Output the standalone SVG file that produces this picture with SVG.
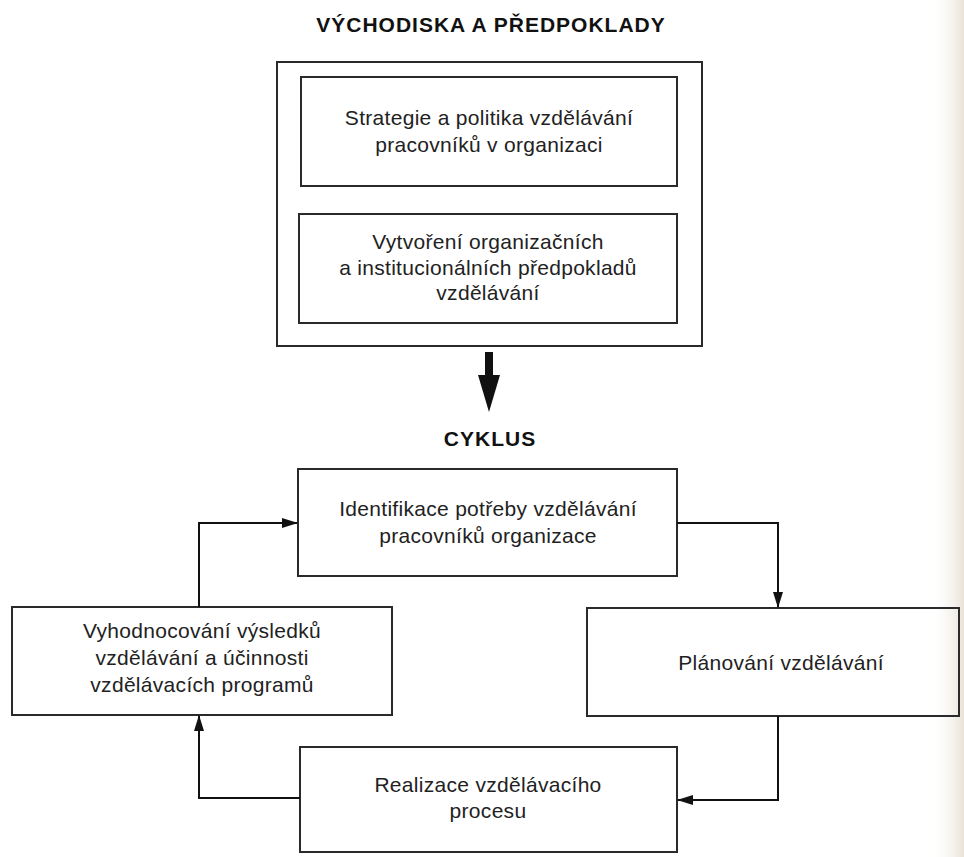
<svg xmlns="http://www.w3.org/2000/svg" width="964" height="857" viewBox="0 0 964 857">
  <defs>
    <style>
      .box { fill: none; stroke: #2a2a2a; stroke-width: 2; }
      .txt { font-family: "Liberation Sans", Arial, Helvetica, sans-serif; font-size: 21px; fill: #222; text-anchor: middle; letter-spacing: 0.3px; }
      .head { font-family: "Liberation Sans", Arial, Helvetica, sans-serif; font-size: 21px; font-weight: bold; fill: #111; text-anchor: middle; letter-spacing: 1px; }
      .conn { fill: none; stroke: #111; stroke-width: 2; }
    </style>
    <marker id="arr" markerUnits="userSpaceOnUse" markerWidth="16" markerHeight="10" refX="15" refY="5" orient="auto">
      <path d="M0,0 L16,5 L0,10 Z" fill="#111"/>
    </marker>
    <linearGradient id="edge" x1="0" y1="0" x2="1" y2="0">
      <stop offset="0" stop-color="#ffffff" stop-opacity="0"/>
      <stop offset="1" stop-color="#e8e2d6"/>
    </linearGradient>
  </defs>
  <rect x="0" y="0" width="964" height="857" fill="#ffffff"/>
  <rect x="930" y="0" width="34" height="857" fill="url(#edge)"/>

  <g id="title-vychodiska">
    <text class="head" x="491" y="32">VÝCHODISKA A PŘEDPOKLADY</text>
  </g>

  <g id="outer-box">
    <rect class="box" x="277" y="62" width="425" height="284"/>
  </g>

  <g id="node-strategie">
    <rect class="box" x="301" y="77" width="376" height="109"/>
    <text class="txt" x="489" y="125">Strategie a politika vzdělávání</text>
    <text class="txt" x="489" y="152">pracovníků v organizaci</text>
  </g>

  <g id="node-vytvoreni">
    <rect class="box" x="299" y="214" width="378" height="109"/>
    <text class="txt" x="488" y="249">Vytvoření organizačních</text>
    <text class="txt" x="488" y="275">a institucionálních předpokladů</text>
    <text class="txt" x="488" y="300">vzdělávání</text>
  </g>

  <g id="big-arrow">
    <rect x="485" y="352" width="8" height="26" fill="#111"/>
    <path d="M478,375 L500,375 L489,412 Z" fill="#111"/>
  </g>

  <g id="title-cyklus">
    <text class="head" x="490" y="446">CYKLUS</text>
  </g>

  <g id="node-identifikace">
    <rect class="box" x="298" y="469" width="379" height="107"/>
    <text class="txt" x="488" y="516">Identifikace potřeby vzdělávání</text>
    <text class="txt" x="488" y="543">pracovníků organizace</text>
  </g>

  <g id="node-planovani">
    <rect class="box" x="587" y="608" width="372" height="108"/>
    <text class="txt" x="781" y="670">Plánování vzdělávání</text>
  </g>

  <g id="node-realizace">
    <rect class="box" x="300" y="747" width="377" height="105"/>
    <text class="txt" x="488" y="792">Realizace vzdělávacího</text>
    <text class="txt" x="488" y="818">procesu</text>
  </g>

  <g id="node-vyhodnocovani">
    <rect class="box" x="12" y="607" width="380" height="108"/>
    <text class="txt" x="202" y="638">Vyhodnocování výsledků</text>
    <text class="txt" x="202" y="665">vzdělávání a účinnosti</text>
    <text class="txt" x="202" y="692">vzdělávacích programů</text>
  </g>

  <g id="connectors">
    <path class="conn" d="M199,607 V523 H297" marker-end="url(#arr)"/>
    <path class="conn" d="M677,523 H778 V607" marker-end="url(#arr)"/>
    <path class="conn" d="M778,716 V800 H678" marker-end="url(#arr)"/>
    <path class="conn" d="M300,798 H199 V716" marker-end="url(#arr)"/>
  </g>
</svg>
